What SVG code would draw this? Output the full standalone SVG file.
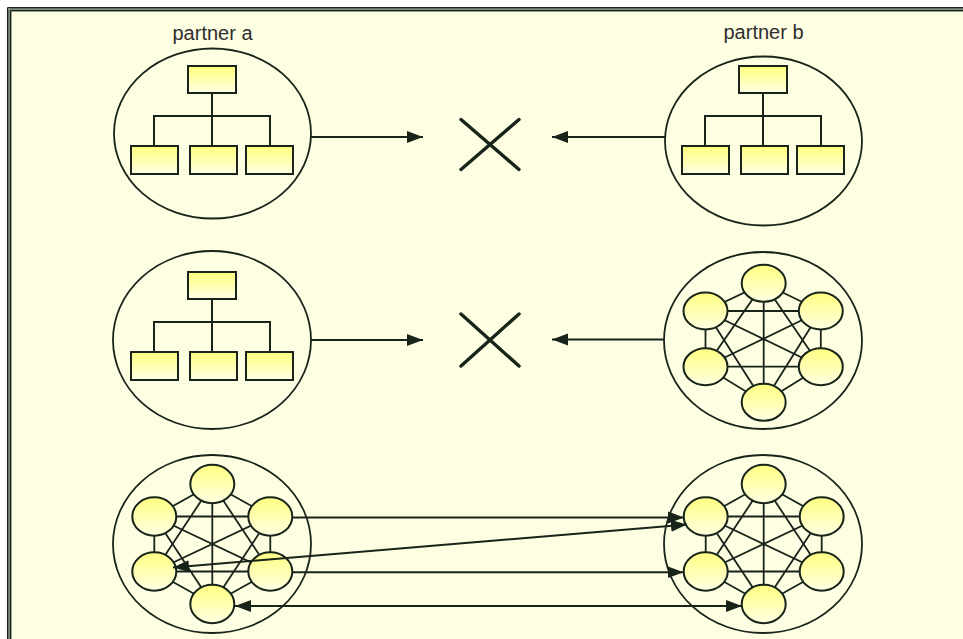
<svg xmlns="http://www.w3.org/2000/svg" xmlns:xlink="http://www.w3.org/1999/xlink" width="963" height="639" viewBox="0 0 963 639">
  <style>
    .ink { stroke: #18241a; fill: none; }
    .halo { fill: #fefee2; stroke: #18241a; stroke-width: 1.8; }
    .box { fill: url(#boxFill); stroke: #18241a; stroke-width: 2; }
    .orb { fill: url(#orbFill); stroke: #18241a; stroke-width: 2; }
    .wire { stroke: #18241a; stroke-width: 2; fill: none; }
    .mesh { stroke: #18241a; stroke-width: 1.8; fill: none; }
    .cross { stroke: #18241a; stroke-width: 3.4; stroke-linecap: round; fill: none; }
    .link { stroke: #18241a; stroke-width: 2; fill: none; }
    .label { font-family: "Liberation Sans", Arial, sans-serif; font-size: 20px; fill: #2e2e2e; text-anchor: middle; }
  </style>
  <defs>
    <linearGradient id="boxFill" x1="0" y1="0" x2="0" y2="1">
      <stop offset="0" stop-color="#ffff7c"/>
      <stop offset="1" stop-color="#ffffe4"/>
    </linearGradient>
    <linearGradient id="orbFill" x1="0" y1="0" x2="0" y2="1">
      <stop offset="0" stop-color="#ffff80"/>
      <stop offset="1" stop-color="#ffffe2"/>
    </linearGradient>
    <marker id="head" markerUnits="userSpaceOnUse" markerWidth="17" markerHeight="13" refX="16" refY="6.5" orient="auto-start-reverse">
      <path d="M0,0.5 L16,6.5 L0,12.5 z" fill="#18241a"/>
    </marker>
    <!-- hierarchy: one box over three -->
    <g id="tree">
      <path class="wire" d="M212,93 V146 M154,146 V116 H270 V146"/>
      <rect class="box" x="188" y="66" width="48" height="27"/>
      <rect class="box" x="131" y="146" width="47" height="28"/>
      <rect class="box" x="190" y="146" width="47" height="28"/>
      <rect class="box" x="246" y="146" width="47" height="28"/>
    </g>
    <!-- fully meshed network of six members, centred on 0,0 -->
    <g id="net">
      <path class="mesh" d="M0,-60 L-58,-27.5 M0,-60 L58,-27.5 M0,-60 L-58,27.5 M0,-60 L58,27.5 M0,-60 L0,60
                            M-58,-27.5 L58,-27.5 M-58,-27.5 L-58,27.5 M-58,-27.5 L58,27.5 M-58,-27.5 L0,60
                            M58,-27.5 L-58,27.5 M58,-27.5 L58,27.5 M58,-27.5 L0,60
                            M-58,27.5 L58,27.5 M-58,27.5 L0,60 M58,27.5 L0,60"/>
      <ellipse class="orb" cx="0" cy="-60" rx="22" ry="19.2"/>
      <ellipse class="orb" cx="-58" cy="-27.5" rx="22" ry="19.2"/>
      <ellipse class="orb" cx="58" cy="-27.5" rx="22" ry="19.2"/>
      <ellipse class="orb" cx="-58" cy="27.5" rx="22" ry="19.2"/>
      <ellipse class="orb" cx="58" cy="27.5" rx="22" ry="19.2"/>
      <ellipse class="orb" cx="0" cy="60" rx="22" ry="19.2"/>
    </g>
  </defs>

  <!-- canvas and frame -->
  <rect x="0" y="0" width="963" height="639" fill="#ffffff"/>
  <rect x="7" y="7" width="956" height="632" fill="#fefee2"/>
  <path d="M7,11 V639 M11,639 V11 H963" stroke="none" fill="none"/>
  <path d="M9.2,9.2 V639 M9.2,9.2 H963" stroke="#7d8c7d" stroke-width="4.4" fill="none"/>
  <path d="M7.6,7.6 V639 M7.6,7.6 H963 M10.6,10.6 V639 M10.6,10.6 H963" stroke="#18241a" stroke-width="1.3" fill="none"/>

  <text class="label" x="212.5" y="40">partner a</text>
  <text class="label" x="763.5" y="39">partner b</text>

  <!-- row 1: hierarchy against hierarchy -->
  <g id="a-hier-1">
    <ellipse class="halo" cx="212.5" cy="133.5" rx="98.5" ry="85"/>
    <use xlink:href="#tree" href="#tree"/>
  </g>
  <g id="b-hier-1">
    <ellipse class="halo" cx="763.5" cy="141" rx="98.5" ry="84.5"/>
    <use xlink:href="#tree" href="#tree" transform="translate(551,0)"/>
  </g>
  <g id="clash-1">
    <path class="cross" d="M461,119.5 L519,169.5 M519,119.5 L461,169.5"/>
  </g>

  <!-- row 2: hierarchy against network -->
  <g id="a-hier-2">
    <ellipse class="halo" cx="212" cy="340" rx="99" ry="89"/>
    <use xlink:href="#tree" href="#tree" transform="translate(0,206)"/>
  </g>
  <g id="b-net-2">
    <ellipse class="halo" cx="763" cy="340.5" rx="99" ry="88.5"/>
    <path class="mesh" d="M763.7,283.3 L705.5,311 M763.7,283.3 L820.8,311 M763.7,283.3 L705.5,366.7 M763.7,283.3 L820.8,366.7 M763.7,283.3 L763.7,402.3
                          M705.5,311 L820.8,311 M705.5,311 L705.5,366.7 M705.5,311 L820.8,366.7 M705.5,311 L763.7,402.3
                          M820.8,311 L705.5,366.7 M820.8,311 L820.8,366.7 M820.8,311 L763.7,402.3
                          M705.5,366.7 L820.8,366.7 M705.5,366.7 L763.7,402.3 M820.8,366.7 L763.7,402.3"/>
    <ellipse class="orb" cx="763.7" cy="283.3" rx="22" ry="18.5"/>
    <ellipse class="orb" cx="705.5" cy="311" rx="22" ry="18.5"/>
    <ellipse class="orb" cx="820.8" cy="311" rx="22" ry="18.5"/>
    <ellipse class="orb" cx="705.5" cy="366.7" rx="22" ry="18.5"/>
    <ellipse class="orb" cx="820.8" cy="366.7" rx="22" ry="18.5"/>
    <ellipse class="orb" cx="763.7" cy="402.3" rx="22" ry="18.5"/>
  </g>
  <g id="clash-2">
    <path class="cross" d="M461,314 L519,366 M519,314 L461,366"/>
  </g>

  <!-- row 3: network against network -->
  <g id="a-net-3">
    <ellipse class="halo" cx="212" cy="544" rx="99" ry="89"/>
    <use xlink:href="#net" href="#net" transform="translate(212.3,544)"/>
  </g>
  <g id="b-net-3">
    <ellipse class="halo" cx="763" cy="544" rx="99" ry="89"/>
    <use xlink:href="#net" href="#net" transform="translate(763.7,544)"/>
  </g>

  <!-- connectors -->
  <g id="connectors">
    <line class="link" x1="311" y1="137" x2="423" y2="137" marker-end="url(#head)"/>
    <line class="link" x1="665" y1="137" x2="552" y2="137" marker-end="url(#head)"/>
    <line class="link" x1="311" y1="340" x2="423" y2="340" marker-end="url(#head)"/>
    <line class="link" x1="664" y1="339.5" x2="552" y2="339.5" marker-end="url(#head)"/>
    <line class="link" x1="292" y1="517.5" x2="684" y2="517.5" marker-end="url(#head)"/>
    <line class="link" x1="687" y1="524.5" x2="173" y2="567.5" marker-start="url(#head)" marker-end="url(#head)"/>
    <line class="link" x1="292" y1="572.3" x2="683.5" y2="572.3" marker-end="url(#head)"/>
    <line class="link" x1="235" y1="606" x2="742" y2="606" marker-start="url(#head)" marker-end="url(#head)"/>
  </g>
</svg>
